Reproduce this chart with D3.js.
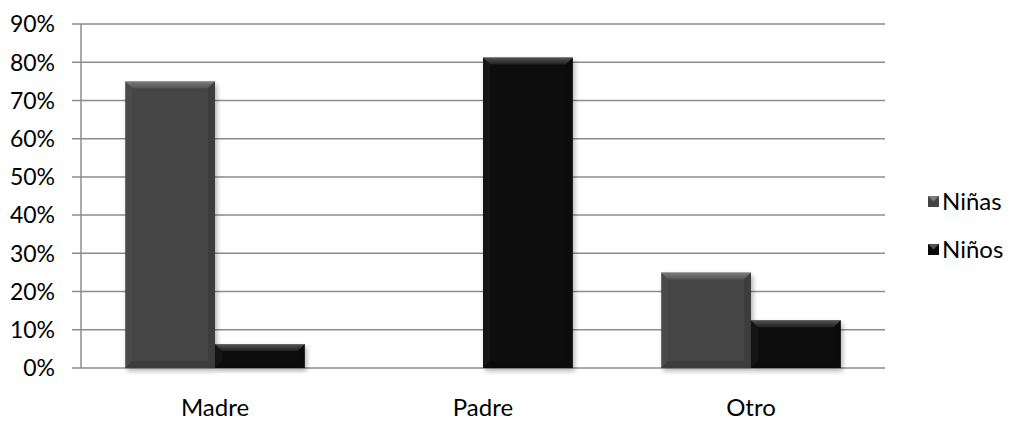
<!DOCTYPE html>
<html>
<head>
<meta charset="utf-8">
<script src="https://cdn.jsdelivr.net/npm/d3@7"></script>
<style>
  body { margin: 0; background: #fff; }
  svg { font-family: Lato, "Open Sans", sans-serif; }
</style>
</head>
<body>
<svg id="chart"></svg>
<script>
var width = 1014, height = 421;

// data
var categories = ['Madre', 'Padre', 'Otro'];
var seriesNames = ['Niñas', 'Niños'];
var ninas = [0.75, 0, 0.25];
var ninos = [0.0625, 0.8125, 0.125];
var yTicks = [0, 0.1, 0.2, 0.3, 0.4, 0.5, 0.6, 0.7, 0.8, 0.9];
var colors = ['#444444', '#080808'];

var margin = {top: 24, right: 129, bottom: 53, left: 81};
var innerW = width - margin.left - margin.right;
var innerH = height - margin.top - margin.bottom;

var svg = d3.select('#chart')
  .attr('width', width)
  .attr('height', height);

var defs = svg.append('defs');
var f = defs.append('filter').attr('id', 'shadow')
  .attr('x', '-10%').attr('y', '-10%').attr('width', '130%').attr('height', '130%');
f.append('feDropShadow').attr('dx', 2).attr('dy', 3).attr('stdDeviation', 2.5)
  .attr('flood-color', '#000').attr('flood-opacity', 0.3);

var topGrad = defs.append('linearGradient').attr('id', 'topbev')
  .attr('x1', 0).attr('y1', 0).attr('x2', 0).attr('y2', 1);
topGrad.append('stop').attr('offset', '0%').attr('stop-color', '#fff').attr('stop-opacity', 0.3);
topGrad.append('stop').attr('offset', '100%').attr('stop-color', '#fff').attr('stop-opacity', 0.08);

var g = svg.append('g')
  .attr('transform', 'translate(' + margin.left + ',' + margin.top + ')');

var y = d3.scaleLinear().domain([0, 0.9]).range([innerH, 0]);
var x0 = d3.scaleBand().domain(categories).range([0, innerW]).paddingInner(0.33).paddingOuter(0.165);
var x1 = d3.scaleBand().domain(seriesNames).range([0, x0.bandwidth()]);

// gridlines
g.selectAll('.grid')
  .data(yTicks)
  .enter().append('line')
  .attr('x1', -9).attr('x2', innerW)
  .attr('y1', function (d) { return y(d); })
  .attr('y2', function (d) { return y(d); })
  .attr('stroke', '#8c8c8c').attr('stroke-width', 1.5);

// y axis line
g.append('line')
  .attr('x1', 0).attr('x2', 0).attr('y1', 0).attr('y2', innerH)
  .attr('stroke', '#8c8c8c').attr('stroke-width', 1.5);

// tick labels
g.selectAll('.ylab')
  .data(yTicks)
  .enter().append('text')
  .attr('x', -26)
  .attr('y', function (d) { return y(d); })
  .attr('dy', '0.36em')
  .attr('text-anchor', 'end')
  .attr('font-size', 23)
  .attr('fill', '#000')
  .text(function (d) { return Math.round(d * 100) + '%'; });

// bars
var rows = [];
categories.forEach(function (c, i) {
  rows.push({cat: c, s: 0, v: ninas[i]});
  rows.push({cat: c, s: 1, v: ninos[i]});
});
rows = rows.filter(function (d) { return d.v > 0; });

var bars = g.selectAll('.bar')
  .data(rows)
  .enter().append('g')
  .attr('transform', function (d) {
    return 'translate(' + (x0(d.cat) + x1(seriesNames[d.s])) + ',' + y(d.v) + ')';
  });

bars.append('rect')
  .attr('width', x1.bandwidth())
  .attr('height', function (d) { return innerH - y(d.v); })
  .attr('fill', function (d) { return colors[d.s]; })
  .attr('filter', 'url(#shadow)');

// bevel
var bev = 7;
function bevel(sel, side, fill) {
  sel.append('path')
    .attr('fill', fill)
    .attr('d', function (d) {
      var w = x1.bandwidth(), h = innerH - y(d.v);
      var b = Math.min(bev, h / 2, w / 2);
      if (side === 'top') return 'M0,0L' + w + ',0L' + (w - b) + ',' + b + 'L' + b + ',' + b + 'Z';
      if (side === 'bottom') return 'M0,' + h + 'L' + w + ',' + h + 'L' + (w - b) + ',' + (h - b) + 'L' + b + ',' + (h - b) + 'Z';
      if (side === 'left') return 'M0,0L' + b + ',' + b + 'L' + b + ',' + (h - b) + 'L0,' + h + 'Z';
      return 'M' + w + ',0L' + (w - b) + ',' + b + 'L' + (w - b) + ',' + (h - b) + 'L' + w + ',' + h + 'Z';
    });
}
bevel(bars, 'top', 'url(#topbev)');
bevel(bars, 'left', 'rgba(255,255,255,0.03)');
bevel(bars, 'right', 'rgba(0,0,0,0.1)');
bevel(bars, 'bottom', 'rgba(0,0,0,0.12)');

// category labels
g.selectAll('.xlab')
  .data(categories)
  .enter().append('text')
  .attr('x', function (d) { return x0(d) + x0.bandwidth() / 2; })
  .attr('y', innerH + 48)
  .attr('text-anchor', 'middle')
  .attr('font-size', 24)
  .text(function (d) { return d; });

// legend
var legend = svg.append('g').attr('transform', 'translate(928,201)');
var items = legend.selectAll('g')
  .data(seriesNames)
  .enter().append('g')
  .attr('transform', function (d, i) { return 'translate(0,' + (i * 48) + ')'; });
items.append('rect')
  .attr('x', 0).attr('y', -5).attr('width', 11).attr('height', 11)
  .attr('fill', function (d, i) { return colors[i]; });
items.append('path')
  .attr('d', 'M0,-5L11,-5L5.5,0.5Z')
  .attr('fill', 'rgba(255,255,255,0.3)');
items.append('text')
  .attr('x', 14).attr('dy', '0.38em')
  .attr('font-size', 24)
  .text(function (d) { return d; });
</script>
</body>
</html>
